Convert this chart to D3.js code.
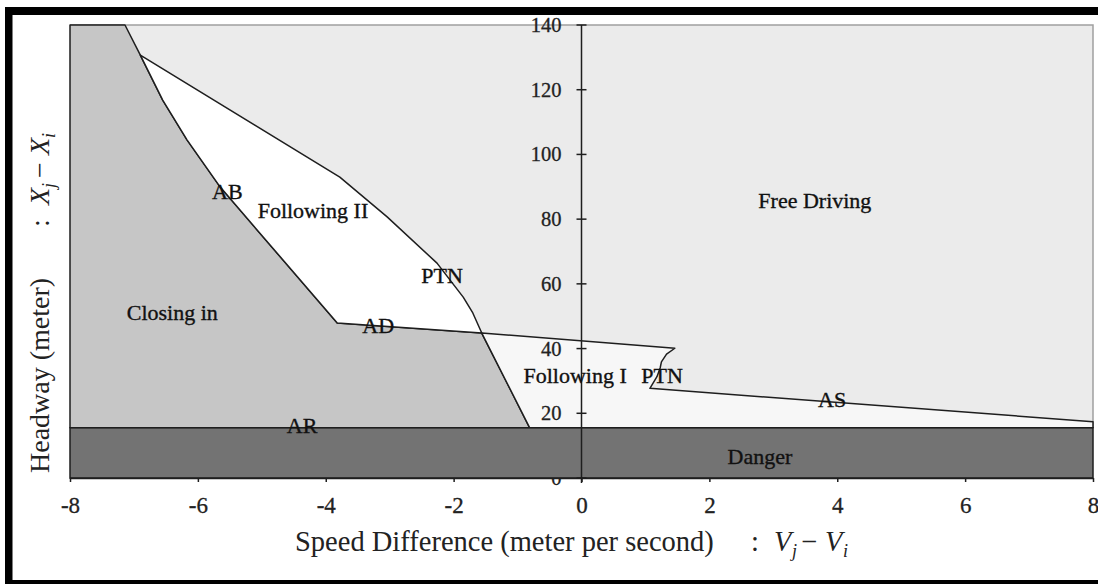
<!DOCTYPE html>
<html><head><meta charset="utf-8">
<script src="https://cdn.jsdelivr.net/npm/d3@7"></script>
<style>
body{margin:0;background:#fff}
svg{display:block}
text{font-family:"Liberation Serif","Times New Roman",serif}
</style>
</head><body>
<svg id="c" width="1098" height="584"></svg>
<script>
// ---- data (speed difference m/s, headway m) ----
const xTicks = [-8, -6, -4, -2, 0, 2, 4, 6, 8];
const yTicks = [0, 20, 40, 60, 80, 100, 120, 140];
const xDomain = [-8, 8];
const yDomain = [0, 140];
const dangerTop = 15.5;
const closingIn = [[-8,15.5],[-8,140],[-7.14,140],[-6.90,130.7],[-6.55,116.8],[-6.17,104.5],[-5.65,89.9],[-3.82,47.9],[-1.56,44.8],[-0.81,15.5]];
const followingII = [[-6.90,130.7],[-6.55,116.8],[-6.17,104.5],[-5.65,89.9],[-3.82,47.9],[-1.56,44.8],[-1.70,51.0],[-1.85,55.9],[-2.26,66.4],[-3.04,80.7],[-3.78,93.0]];
const followingI = [[-1.56,44.8],[1.46,40.1],[1.33,38.3],[1.25,35.9],[1.23,34.0],[1.18,31.3],[1.07,27.7],[8,17.4],[8,15.5],[-0.81,15.5]];
const labelText = ["Free Driving","Following II","AB","PTN","Closing in","AD","Following I","PTN","AS","AR","Danger"];
const labelX    = [3.65, -4.20, -5.54, -2.18, -6.40, -3.18, -0.10, 1.26, 3.92, -4.37, 2.79];
const labelY    = [83.4, 80.4, 86.2, 60.3, 48.8, 44.8, 29.4, 29.4, 21.9, 13.9, 4.3];

const svg = d3.select("#c");
const x = d3.scaleLinear().domain(xDomain).range([70, 1093]);
const y = d3.scaleLinear().domain(yDomain).range([478, 25]);
const line = d3.line().x(d => x(d[0])).y(d => y(d[1]));

svg.append("rect").attr("width",1098).attr("height",584).attr("fill","#fff");

// free driving background
svg.append("rect").attr("x",x(-8)).attr("y",y(140)).attr("width",x(8)-x(-8)).attr("height",y(0)-y(140)).attr("fill","#ebebeb");
svg.append("path").attr("d",`M${x(-8)},${y(140)}H${x(8)}V${y(dangerTop)}`).attr("fill","none").attr("stroke","#a0a0a0").attr("stroke-width",1.5);

const strokeC = "#1e1e1e";
svg.append("path").attr("d", line(closingIn) + "Z").attr("fill","#c6c6c6").attr("stroke",strokeC).attr("stroke-width",1.5).attr("stroke-linejoin","round");
svg.append("path").attr("d", line(followingII) + "Z").attr("fill","#ffffff").attr("stroke",strokeC).attr("stroke-width",1.5).attr("stroke-linejoin","round");
svg.append("path").attr("d", line(followingI) + "Z").attr("fill","#f7f7f7").attr("stroke",strokeC).attr("stroke-width",1.5).attr("stroke-linejoin","round");

// y tick labels (under the danger band)
const yLab = svg.append("g").attr("transform",`translate(${x(0)},0)`)
  .call(d3.axisLeft(y).tickValues(yTicks).tickSize(5).tickPadding(15).tickFormat(d3.format("d")));
yLab.attr("font-family",null);
yLab.select(".domain").remove();
yLab.selectAll("line").remove();
yLab.selectAll("text").attr("font-size",20.5).attr("fill","#222").attr("stroke","#222").attr("stroke-width",0.3);

// danger band
svg.append("rect").attr("x",x(-8)).attr("y",y(dangerTop)).attr("width",x(8)-x(-8)).attr("height",y(0)-y(dangerTop))
  .attr("fill","#737373").attr("stroke",strokeC).attr("stroke-width",1.5);

// x axis
const xa = svg.append("g").attr("transform",`translate(0,${y(0)})`)
  .call(d3.axisBottom(x).tickValues(xTicks).tickSize(4).tickSizeOuter(0).tickPadding(15).tickFormat(d3.format("d")));
xa.attr("font-family",null);
xa.select(".domain").attr("stroke",strokeC).attr("stroke-width",1.5);
xa.selectAll("line").attr("stroke",strokeC).attr("stroke-width",1.5);
xa.selectAll("text").attr("font-size",23).attr("fill","#222").attr("stroke","#222").attr("stroke-width",0.3)
  .text(d => d3.format("d")(d).replace("−","-"));

// y axis line with crossing ticks
const ya = svg.append("g").attr("transform",`translate(${x(0)},0)`);
ya.append("line").attr("y1",y(140)).attr("y2",y(0)+5).attr("stroke",strokeC).attr("stroke-width",1.5);
ya.selectAll("line.t").data(yTicks).join("line").attr("class","t")
  .attr("x1",-5).attr("x2",5).attr("y1",d=>y(d)).attr("y2",d=>y(d)).attr("stroke",strokeC).attr("stroke-width",1.5);

// region / boundary labels
svg.append("g").selectAll("text").data(labelText).join("text")
  .attr("x",(d,i)=>x(labelX[i])).attr("y",(d,i)=>y(labelY[i]))
  .attr("text-anchor","middle").attr("font-size",22).attr("fill","#111")
  .attr("stroke","#111").attr("stroke-width",0.35).text(d=>d);

// x axis title
const xt = svg.append("text").attr("y",551).attr("font-size",28.5).attr("fill","#222");
xt.append("tspan").attr("x",295).text("Speed Difference (meter per second)");
xt.append("tspan").attr("x",751).text(":");
xt.append("tspan").attr("x",774).attr("font-style","italic").text("V");
xt.append("tspan").attr("x",792).attr("dy",6).attr("font-size",18).attr("font-style","italic").text("j");
xt.append("tspan").attr("x",801).attr("dy",-6).text("−");
xt.append("tspan").attr("x",825).attr("font-style","italic").text("V");
xt.append("tspan").attr("x",843).attr("dy",6).attr("font-size",18).attr("font-style","italic").text("i");

// y axis title
const ytg = svg.append("g").attr("transform","translate(49,473) rotate(-90)");
const yt = ytg.append("text").attr("y",0).attr("font-size",28).attr("fill","#222");
yt.append("tspan").attr("x",0).text("Headway (meter)");
yt.append("tspan").attr("x",246).text(":");
yt.append("tspan").attr("x",268).attr("font-style","italic").text("X");
yt.append("tspan").attr("x",285).attr("dy",6).attr("font-size",18).attr("font-style","italic").text("j");
yt.append("tspan").attr("x",295).attr("dy",-6).text("−");
yt.append("tspan").attr("x",318).attr("font-style","italic").text("X");
yt.append("tspan").attr("x",335).attr("dy",6).attr("font-size",18).attr("font-style","italic").text("i");

// black frame
svg.append("rect").attr("x",5).attr("y",7).attr("width",1093).attr("height",8).attr("fill","#000");
svg.append("rect").attr("x",5).attr("y",7).attr("width",7.5).attr("height",577).attr("fill","#000");
svg.append("rect").attr("x",5).attr("y",580).attr("width",1093).attr("height",4).attr("fill","#000");
</script>
</body></html>
